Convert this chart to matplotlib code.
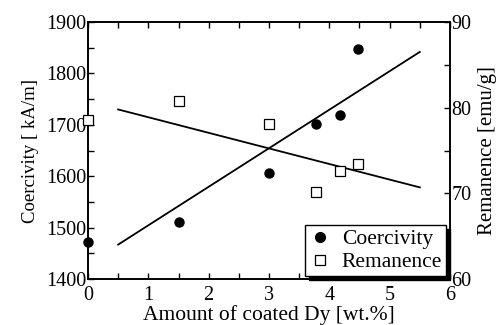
import matplotlib
matplotlib.use("Agg")
import matplotlib.pyplot as plt
from matplotlib.ticker import MultipleLocator
from matplotlib.lines import Line2D

plt.rcParams['font.family'] = ['Liberation Serif', 'DejaVu Serif']

# measured points
dy_wt = [0.0, 1.5, 3.0, 3.78, 4.17, 4.47]
coercivity = [1473, 1510, 1606, 1701, 1720, 1847]      # kA/m
remanence = [78.6, 80.8, 78.1, 70.2, 72.6, 73.4]        # emu/g

# fitted trend lines (end points)
fit_x = [0.5, 5.5]
coer_fit = [1467, 1842]
rem_fit = [79.8, 70.7]

fig = plt.figure(figsize=(5.0, 3.25), dpi=100)
ax = fig.add_axes([0.176, 0.1415, 0.724, 0.7905])
ax2 = ax.twinx()

ax.plot(dy_wt, coercivity, 'o', color='k', ms=6.5, clip_on=False, zorder=5)
ax.plot(fit_x, coer_fit, '-', color='k', lw=1.3)
ax2.plot(dy_wt, remanence, 's', mfc='white', mec='k', mew=0.9, ms=6.5, clip_on=False, zorder=5)
ax2.plot(fit_x, rem_fit, '-', color='k', lw=1.3)

ax.set_xlim(0, 6)
ax.set_ylim(1400, 1900)
ax2.set_ylim(60, 90)

ax.xaxis.set_major_locator(MultipleLocator(1))
ax.xaxis.set_minor_locator(MultipleLocator(0.5))
ax.yaxis.set_major_locator(MultipleLocator(100))
ax.yaxis.set_minor_locator(MultipleLocator(50))
ax2.yaxis.set_major_locator(MultipleLocator(10))
ax2.yaxis.set_minor_locator(MultipleLocator(5))

for a in (ax, ax2):
    for s in a.spines.values():
        s.set_linewidth(1.2)
ax.tick_params(which='both', direction='in', top=True, right=False, length=4, width=1.0,
               labelsize=14.5)
ax.tick_params(axis='x', pad=5)
ax.tick_params(axis='y', pad=1)
ax2.tick_params(which='both', direction='in', length=4, width=1.0, labelsize=14.5, pad=1)

ax.set_xlabel('Amount of coated Dy [wt.%]', fontsize=15.5, labelpad=0)
ax.set_ylabel('Coercivity [ kA/m]', fontsize=13.5, labelpad=5)
ax2.set_ylabel('Remanence [emu/g]', fontsize=15, labelpad=5)

handles = [Line2D([], [], ls='none', marker='o', color='k', ms=7),
           Line2D([], [], ls='none', marker='s', mfc='white', mec='k', mew=0.9, ms=7)]
leg = ax2.legend(handles, ['Coercivity', 'Remanence'], loc='lower right',
                 bbox_to_anchor=(0.99, 0.01), borderaxespad=0, fancybox=False,
                 framealpha=1, edgecolor='k', fontsize=15.5, handletextpad=0.5,
                 borderpad=0.2, labelspacing=0.12, handlelength=1.0,
                 shadow={'color': 'k', 'alpha': 1, 'ox': 2.5, 'oy': -2.5})
leg.get_frame().set_linewidth(1.0)

fig.savefig('out.png', dpi=100)
